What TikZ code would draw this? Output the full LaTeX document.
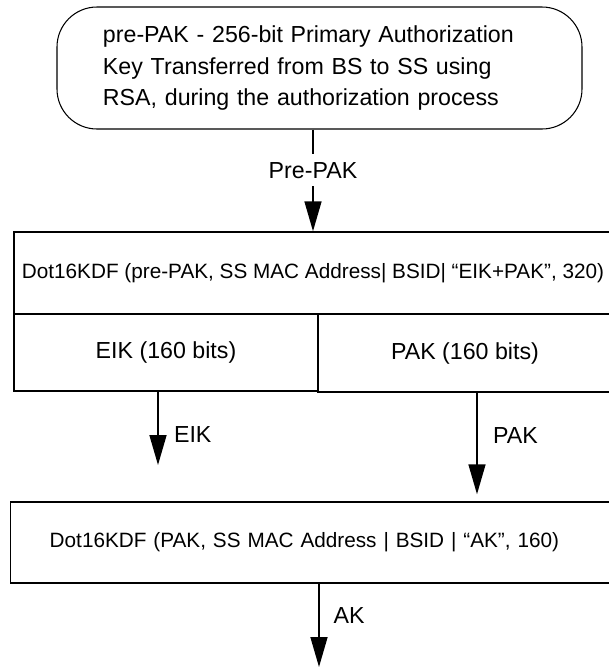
\documentclass[tikz,border=0pt]{standalone}
\usepackage{fontspec}
\setmainfont{Liberation Sans}
\usetikzlibrary{arrows.meta, positioning}

\begin{document}
\begin{tikzpicture}[font=\fontsize{13.2}{17.9}\selectfont,
  box/.style={draw, line width=0.85pt, inner sep=0pt, align=center},
  arr/.style={-{Triangle[length=0.6cm, width=0.34cm]}, line width=0.9pt},
  lbl/.style={inner sep=0.155cm}]
  \useasboundingbox (0,0) rectangle (12.18,-13.38);
  % Stage 0
  \node[draw, line width=0.6pt, rounded corners=0.8cm, minimum width=10.5cm, minimum height=2.44cm,
        text width=8.66cm, align=left] (pre) at (6.39,-1.36)
  {pre-PAK - 256-bit Primary Authorization\\Key Transferred from BS to SS using\\RSA, during the authorization process};
  % Stage 1
  \node[box, minimum width=11.96cm, minimum height=1.64cm, font=\fontsize{11.8}{14}\selectfont] (kdf1) at (6.26,-5.46)
  {Dot16KDF (pre-PAK, SS MAC Address| BSID| “EIK+PAK”, 320)};
  \node[box, minimum width=6.08cm, minimum height=1.54cm] (eik) at (3.32,-7.05) {EIK (160 bits)};
  \node[box, minimum width=5.88cm, minimum height=1.56cm] (pak) at (9.30,-7.06) {PAK (160 bits)};
  % Arrow
  \draw[arr] (pre.south -| kdf1.north) -- (kdf1.north) node[pos=0.4, fill=white, lbl]{Pre-PAK};
  % Stage 2
  \node[box, anchor=west, minimum height=1.62cm, inner xsep=0.78cm, text width=10.48cm, align=left,
        font=\fontsize{11.8}{14}\selectfont] (kdf2) at (0.2,-10.85)
  {Dot16KDF (PAK, SS MAC Address | BSID | “AK”, 160)};
  % Arrows
  \coordinate (eikEnd) at (3.16,-9.30);
  \coordinate (pakX) at (9.54,0);
  \coordinate (akEnd) at (6.38,-13.34);
  \draw[arr] (eik.south -| eikEnd) -- (eikEnd) node[pos=0.59, right=0.15cm, lbl]{EIK};
  \draw[arr, shorten >=0.14cm] (pak.south -| pakX) -- (kdf2.north -| pakX) node[pos=0.39, right=0.15cm, lbl]{PAK};
  \draw[arr] (kdf2.south -| akEnd) -- (akEnd) node[pos=0.38, right=0.12cm, lbl]{AK};
\end{tikzpicture}
\end{document}
